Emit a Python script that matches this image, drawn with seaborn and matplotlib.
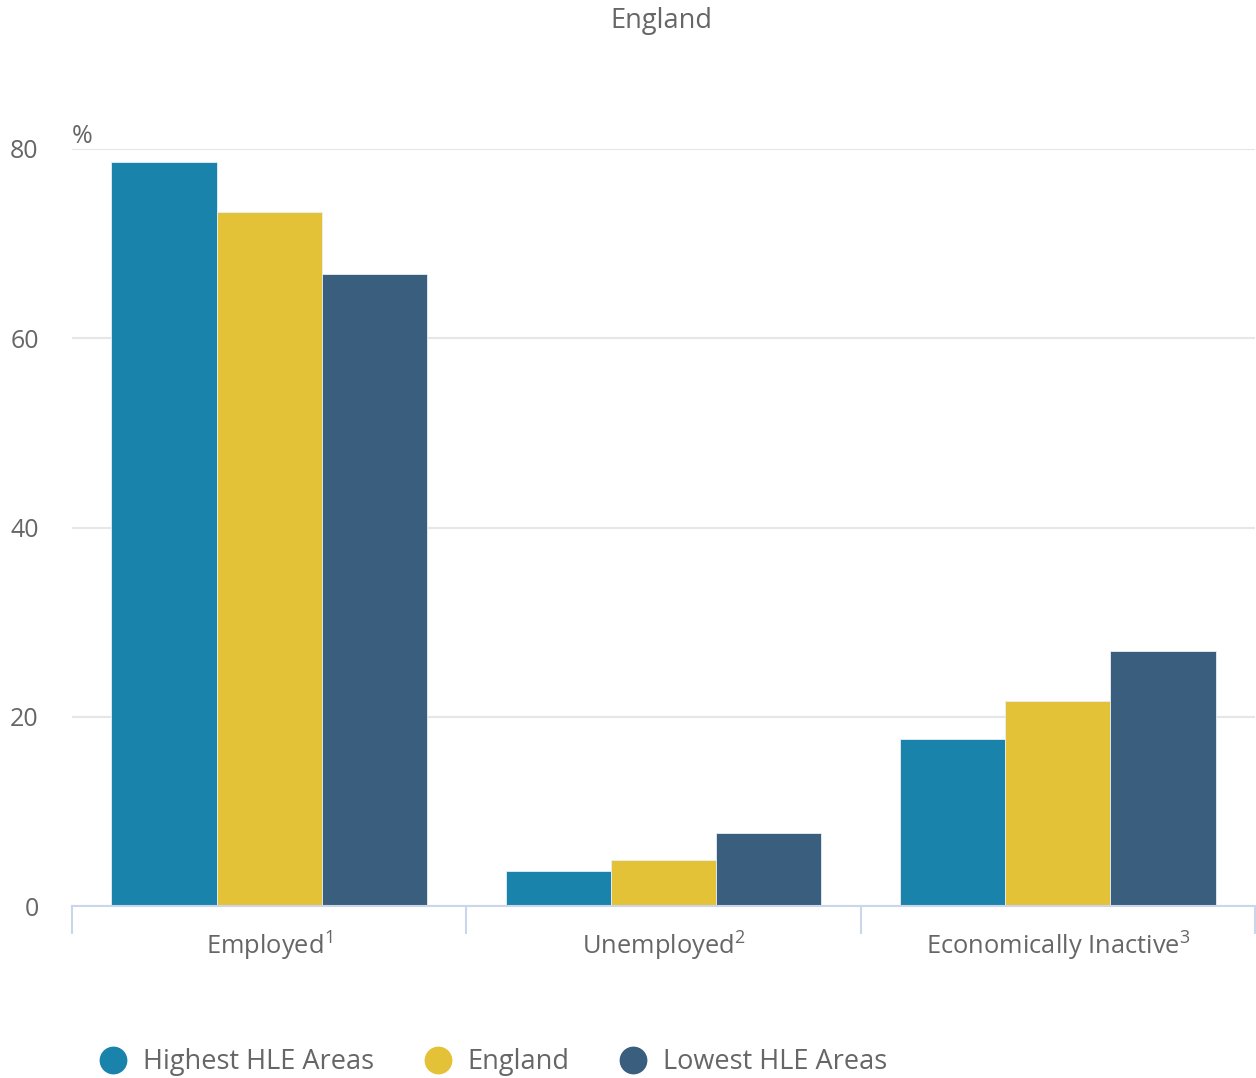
import matplotlib
matplotlib.use("Agg")
import matplotlib.pyplot as plt
from matplotlib.lines import Line2D
import seaborn as sns
import pandas as pd

categories = ["Employed$^{\\mathregular{1}}$", "Unemployed$^{\\mathregular{2}}$",
              "Economically Inactive$^{\\mathregular{3}}$"]
series = ["Highest HLE Areas", "England", "Lowest HLE Areas"]
highest = [78.6, 3.7, 17.6]
england = [73.3, 4.9, 21.7]
lowest = [66.8, 7.7, 26.9]
colors = ["#1a83ab", "#e3c238", "#3a5e7e"]
yticks = [0, 20, 40, 60, 80]

rows = []
for s, vals in zip(series, [highest, england, lowest]):
    for c, v in zip(categories, vals):
        rows.append({"category": c, "series": s, "value": v})
df = pd.DataFrame(rows)

sns.set_theme(style="white")
plt.rcParams["font.family"] = ["Open Sans", "DejaVu Sans"]
plt.rcParams["mathtext.default"] = "regular"

fig = plt.figure(figsize=(12.56, 10.78), dpi=100)
ax = fig.add_axes([72/1256, 1-906/1078, (1255-72)/1256, (906-149)/1078])

sns.barplot(data=df, x="category", y="value", hue="series", order=categories,
            hue_order=series, palette=colors, width=0.8, saturation=1,
            edgecolor="#e8eef5", linewidth=0.6, ax=ax, legend=False)

ax.set_xlim(-0.5, 2.5)
ax.set_ylim(0, 80)
ax.set_yticks(yticks)
ax.yaxis.grid(True, color="#e6e6e6", linewidth=1.5)
ax.set_axisbelow(True)
for sp in ["top", "right", "left"]:
    ax.spines[sp].set_visible(False)
ax.spines["bottom"].set_color("#ccd6eb")
ax.spines["bottom"].set_linewidth(1.5)
ax.set_xlabel("")
ax.set_ylabel("")
ax.tick_params(axis="y", length=0, pad=24, labelsize=18, labelcolor="#666666")
ax.tick_params(axis="x", which="major", length=0, pad=17, labelsize=18.4, labelcolor="#666666")
ax.set_xticks([-0.5, 0.5, 1.5, 2.5], minor=True)
ax.tick_params(axis="x", which="minor", length=20, width=1.5, color="#ccd6eb", bottom=True)

ax.text(0.0, 1.0, "%", transform=ax.transAxes, fontsize=18, color="#666666",
        ha="left", va="bottom")
fig.text(661/1256, 1-21/1078, "England", ha="center", va="center",
         fontsize=19.5, color="#666666")

handles = [Line2D([0], [0], marker="o", linestyle="", markersize=19,
                  markerfacecolor=c, markeredgecolor=c) for c in colors]
fig.legend(handles, series, loc="center left", bbox_to_anchor=(86/1256, 1-1062/1078),
           ncol=3, frameon=False, fontsize=19.5, labelcolor="#666666",
           handletextpad=0.1, columnspacing=1.35, borderaxespad=0, borderpad=0)

fig.savefig("out.png", dpi=100)
